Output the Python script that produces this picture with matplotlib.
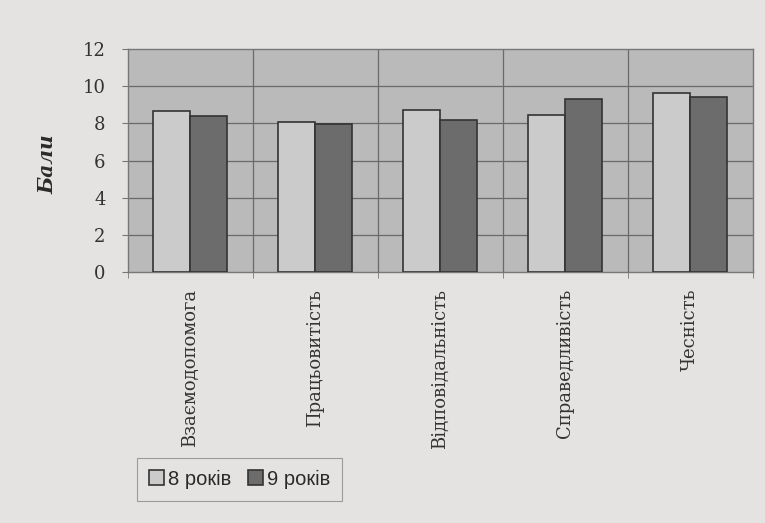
import matplotlib.pyplot as plt
import numpy as np

# categories and scores
categories = ['Взаємодопомога', 'Працьовитість', 'Відповідальність', 'Справедливість', 'Чесність']
age8 = [8.65, 8.05, 8.70, 8.43, 9.62]
age9 = [8.38, 7.96, 8.18, 9.31, 9.43]
series_names = ['8 років', '9 років']
yticks = [0, 2, 4, 6, 8, 10, 12]

page_bg = '#e5e3e1'
plot_bg = '#bababa'
light = '#cbcbcb'
dark = '#6c6c6c'

fig = plt.figure(figsize=(7.65, 5.23), dpi=100)
fig.patch.set_facecolor(page_bg)
ax = fig.add_axes([0.167, 0.480, 0.817, 0.426])
ax.set_facecolor(plot_bg)

x = np.arange(len(categories))
w = 0.296
ax.bar(x - w / 2, age8, w, color=light, edgecolor='#333333', linewidth=1.2, label=series_names[0], zorder=3)
ax.bar(x + w / 2, age9, w, color=dark, edgecolor='#333333', linewidth=1.2, label=series_names[1], zorder=3)

ax.set_xlim(-0.5, len(categories) - 0.5)
ax.set_ylim(0, 12)
ax.set_yticks(yticks)

# grid lines: horizontal at major y ticks, vertical at category boundaries
for yv in yticks[1:-1]:
    ax.axhline(yv, color='#6a6a6a', linewidth=0.9, zorder=1)
for xb in np.arange(0.5, len(categories) - 0.5, 1):
    ax.axvline(xb, color='#6a6a6a', linewidth=0.9, zorder=1)

for s in ax.spines.values():
    s.set_color('#777777')
    s.set_linewidth(1.0)

ax.set_xticks(x)
ax.set_xticklabels(categories, rotation=90, fontfamily='DejaVu Serif', fontsize=13, color='#333333')
ax.tick_params(axis='x', length=0, pad=12)
ax.set_xticks(np.arange(-0.5, len(categories), 1), minor=True)
ax.tick_params(axis='x', which='minor', length=4, color='#777777')
ax.tick_params(axis='y', length=4, pad=12, color='#777777', labelsize=13, labelcolor='#333333')
for t in ax.get_yticklabels():
    t.set_fontfamily('DejaVu Serif')

fig.text(0.062, 0.686, 'Бали', rotation=90, ha='center', va='center',
         fontfamily='DejaVu Serif', fontstyle='italic', fontweight='bold', fontsize=14.5, color='#2a2a2a')

leg = fig.legend(loc='lower left', bbox_to_anchor=(0.166, 0.023), ncol=2, frameon=True,
                 prop={'family': 'Liberation Sans', 'size': 14.5},
                 handlelength=0.75, handleheight=0.75, handletextpad=0.2, columnspacing=0.8,
                 borderpad=0.6, fancybox=False)
leg.get_frame().set_edgecolor('#888888')
leg.get_frame().set_facecolor(page_bg)
leg.get_frame().set_linewidth(0.8)
for t in leg.get_texts():
    t.set_color('#2a2a2a')

plt.savefig('out.png', dpi=100, facecolor=fig.get_facecolor())
